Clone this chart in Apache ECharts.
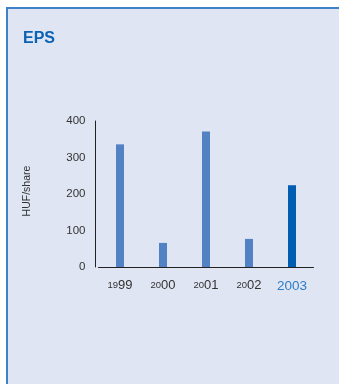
<!DOCTYPE html>
<html><head><meta charset="utf-8">
<script src="https://cdn.jsdelivr.net/npm/echarts@6/dist/echarts.min.js"></script>
<style>html,body{margin:0;padding:0;background:#fff;}#c{width:339px;height:384px;}</style>
</head><body><div id="c"></div>
<script>
var categories = ['1999', '2000', '2001', '2002', '2003'];
var eps = [336, 66, 371, 77, 224];
var yTicks = [0, 100, 200, 300, 400];
var highlight = '2003';

var chart = echarts.init(document.getElementById('c'), null, {renderer: 'canvas'});
chart.setOption({
  animation: false,
  backgroundColor: '#ffffff',
  graphic: [
    {type: 'rect', z: -10, shape: {x: 7, y: 8, width: 340, height: 390}, style: {fill: '#dfe5f3', stroke: '#3d82c9', lineWidth: 2}},
    {type: 'text', left: 23, top: 31, style: {text: 'EPS', fill: '#0a62b4', font: 'bold 16px "Liberation Sans", Arial, sans-serif'}},
    {type: 'text', x: 27, y: 191, rotation: Math.PI / 2, style: {text: 'HUF/share', fill: '#333', font: '10.5px "Liberation Sans", Arial, sans-serif', align: 'center', verticalAlign: 'middle'}}
  ],
  grid: {left: 98.5, right: 25.5, top: 121, bottom: 117, containLabel: false},
  xAxis: {
    type: 'category', data: categories,
    axisLine: {lineStyle: {color: '#222', width: 1}},
    axisTick: {show: false},
    axisLabel: {
      interval: 0,
      margin: 12,
      formatter: function (v) {
        if (v === highlight) return '{h|' + v + '}';
        return '{s|' + v.slice(0, 2) + '}{b|' + v.slice(2) + '}';
      },
      rich: {
        s: {fontSize: 9.5, color: '#333', fontFamily: 'Liberation Sans', verticalAlign: 'bottom', padding: [0, 0, 2, 0]},
        b: {fontSize: 13, color: '#333', fontFamily: 'Liberation Sans', verticalAlign: 'bottom'},
        h: {fontSize: 13.5, color: '#2f7cc6', fontFamily: 'Liberation Sans', verticalAlign: 'bottom'}
      }
    }
  },
  yAxis: {
    type: 'value', min: 0, max: 400, interval: 100, offset: 3,
    axisLine: {show: true, lineStyle: {color: '#222', width: 1}},
    axisTick: {show: false},
    splitLine: {show: false},
    axisLabel: {margin: 10, color: '#333', fontSize: 11.5, fontFamily: 'Liberation Sans',
      formatter: function (v) { return yTicks.indexOf(v) >= 0 ? String(v) : ''; }}
  },
  series: [{
    type: 'bar', barWidth: 8,
    data: eps.map(function (v, i) {
      return {value: v, itemStyle: {color: categories[i] === highlight ? '#005db2' : '#5282c4'}};
    })
  }]
});
</script></body></html>
